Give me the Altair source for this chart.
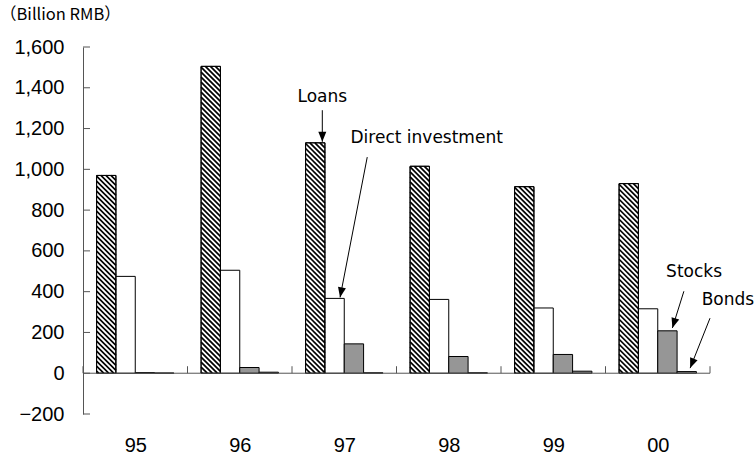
import math
import altair as alt
import pandas as pd

# ---- data ----
years = ["95", "96", "97", "98", "99", "00"]
series = ["Loans", "Direct investment", "Stocks", "Bonds"]
loans = [970, 1505, 1130, 1015, 915, 930]
direct = [475, 505, 367, 362, 320, 316]
stocks = [3, 28, 144, 82, 92, 208]
bonds = [1, 5, 2, 2, 10, 8]
y_ticks = [-200, 0, 200, 400, 600, 800, 1000, 1200, 1400, 1600]
unit_title = "（Billion RMB）"

# annotation anchors in data units (group index, value)
ann_text = [
    {"label": "Loans", "x": 2.29, "y": 1355, "align": "center"},
    {"label": "Direct investment", "x": 2.56, "y": 1153, "align": "left"},
    {"label": "Stocks", "x": 5.58, "y": 496, "align": "left"},
    {"label": "Bonds", "x": 5.92, "y": 358, "align": "left"},
]
ann_arrows = [
    {"x": 2.29, "y": 1290, "x2": 2.29, "y2": 1135},
    {"x": 2.72, "y": 1060, "x2": 2.46, "y2": 372},
    {"x": 5.75, "y": 402, "x2": 5.64, "y2": 222},
    {"x": 6.00, "y": 270, "x2": 5.81, "y2": 25},
]

# ---- layout ----
W, H = 627, 367
YMIN, YMAX = -200, 1600
NG = len(years)
PXX = W / NG                 # px per group unit
PXY = H / (YMAX - YMIN)      # px per value unit
BAR_START = 0.13
BAR_W = 0.185
FONT = "DejaVu Sans"
TICKFONT = "Liberation Sans"

vals = {"Loans": loans, "Direct investment": direct, "Stocks": stocks, "Bonds": bonds}
fills = {"Loans": "#ffffff", "Direct investment": "#ffffff", "Stocks": "#969696", "Bonds": "#969696"}

rows = []
for si, s in enumerate(series):
    for gi, yr in enumerate(years):
        x0 = gi + BAR_START + si * BAR_W
        rows.append({"series": s, "year": yr, "x": x0, "x2": x0 + BAR_W,
                     "y": vals[s][gi], "y2": 0, "fill": fills[s]})
bars = pd.DataFrame(rows)

# hatch segments for Loans bars ("\" direction, 45 deg in pixels)
hatch = []
step = 5.0
for gi, v in enumerate(loans):
    L = (gi + BAR_START) * PXX
    R = L + BAR_W * PXX
    T = (YMAX - v) * PXY
    B = (YMAX - 0) * PXY
    c = T - R
    while c <= B - L:
        xs = max(L, T - c)
        xe = min(R, B - c)
        if xe - xs > 0.3:
            hatch.append({"x": xs / PXX, "y": YMAX - (xs + c) / PXY,
                          "x2": xe / PXX, "y2": YMAX - (xe + c) / PXY})
        c += step
hatch = pd.DataFrame(hatch)

# arrowheads
heads = []
HEAD = 10.0
for a in ann_arrows:
    dx = (a["x2"] - a["x"]) * PXX
    dy = -(a["y2"] - a["y"]) * PXY  # downwards positive
    ln = math.hypot(dx, dy)
    ux, uy = dx / ln, dy / ln
    cx = a["x2"] * PXX - ux * HEAD / 2
    cy = (YMAX - a["y2"]) * PXY - uy * HEAD / 2
    ang = math.degrees(math.atan2(dx, -dy)) % 360
    heads.append({"x": cx / PXX, "y": YMAX - cy / PXY, "angle": ang})
heads = pd.DataFrame(heads)
arrows = pd.DataFrame(ann_arrows)
texts = pd.DataFrame(ann_text)

bounds = pd.DataFrame({"x": list(range(NG + 1)), "y": 0.0, "y2": 7 / PXY})
zline = pd.DataFrame({"x": [0.0], "x2": [float(NG)], "y": [0.0]})
yt = pd.DataFrame({"x": 0.0, "x2": 7 / PXX, "y": y_ticks})

xscale = alt.Scale(domain=[0, NG], nice=False, zero=False)
yscale = alt.Scale(domain=[YMIN, YMAX], nice=False, zero=False)

label_expr = "[" + ",".join("'%s'" % y for y in years) + "][floor(datum.value)]"

X = alt.X("x:Q", scale=xscale,
          axis=alt.Axis(values=[i + 0.5 for i in range(NG)], labelExpr=label_expr,
                        domain=False, ticks=False, grid=False, title=None,
                        labelFont=TICKFONT, labelFontSize=20, labelColor="#000000",
                        labelPadding=21))
Y = alt.Y("y:Q", scale=yscale,
          axis=alt.Axis(values=y_ticks, format=",d", domain=True, domainColor="#555555",
                        ticks=False, grid=False, title=None,
                        labelFont=TICKFONT, labelFontSize=20, labelColor="#000000",
                        labelPadding=19))

base_bars = alt.Chart(bars).mark_bar(stroke="#000000", strokeWidth=1).encode(
    x=X, x2="x2:Q", y=Y, y2="y2:Q",
    fill=alt.Fill("fill:N", scale=None),
)

hatch_layer = alt.Chart(hatch).mark_rule(color="#000000", strokeWidth=1.7).encode(
    x=X, x2="x2:Q", y=Y, y2="y2:Q",
)

outline = alt.Chart(bars[bars.series == "Loans"]).mark_bar(
    fillOpacity=0, stroke="#000000", strokeWidth=1).encode(
    x=X, x2="x2:Q", y=Y, y2="y2:Q",
)

zero_line = alt.Chart(zline).mark_rule(color="#555555", strokeWidth=1).encode(
    x=X, x2="x2:Q", y=Y,
)
xticks = alt.Chart(bounds).mark_rule(color="#555555", strokeWidth=1).encode(
    x=X, y=Y, y2="y2:Q",
)
yticks = alt.Chart(yt).mark_rule(color="#555555", strokeWidth=1).encode(
    x=X, x2="x2:Q", y=Y,
)

arrow_lines = alt.Chart(arrows).mark_rule(color="#000000", strokeWidth=1).encode(
    x=X, x2="x2:Q", y=Y, y2="y2:Q",
)
arrow_heads = alt.Chart(heads).mark_point(
    shape="M0,-1 L0.8,1 L-0.8,1 Z", filled=True, color="#000000", opacity=1, size=100
).encode(
    x=X, y=Y,
    angle=alt.Angle("angle:Q", scale=None),
)

text_layers = []
for align in ["left", "center"]:
    sub = texts[texts["align"] == align]
    text_layers.append(
        alt.Chart(sub).mark_text(font=FONT, fontSize=17, align=align, baseline="middle",
                                 color="#000000").encode(
            x=X, y=Y, text="label:N",
        )
    )

title_layer = alt.Chart(pd.DataFrame({"t": [unit_title]})).mark_text(
    font="'Noto Sans CJK JP'", fontSize=16.5, align="left",
    baseline="middle", color="#000000"
).encode(x=alt.value(-83), y=alt.value(-32), text="t:N")

chart = alt.layer(
    base_bars, hatch_layer, outline, zero_line, xticks, yticks,
    arrow_lines, arrow_heads, *text_layers, title_layer
).properties(
    width=W, height=H,
    autosize=alt.AutoSizeParams(type="none"),
    padding={"left": 83, "top": 47, "right": 45, "bottom": 42},
    background="#ffffff",
).configure_view(stroke=None)

chart.save("out.html", embed_options={"renderer": "svg", "actions": False})
